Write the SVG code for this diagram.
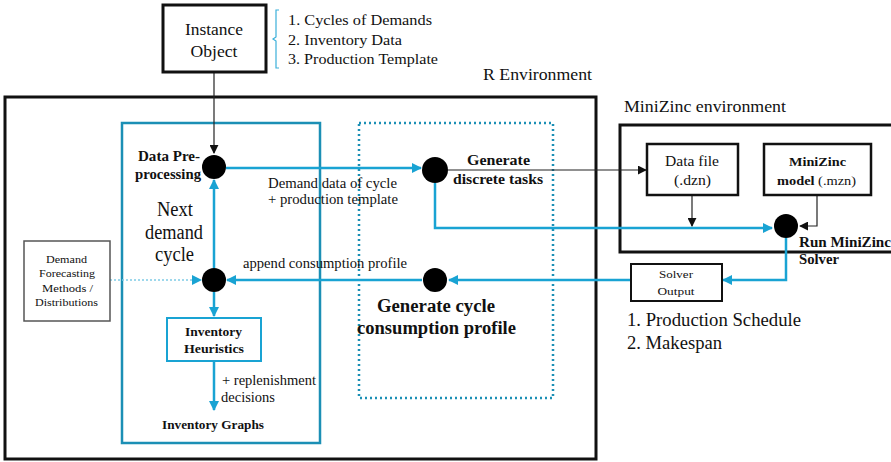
<svg xmlns="http://www.w3.org/2000/svg" width="891" height="462" viewBox="0 0 891 462">
  <style>
    text { font-family: "Liberation Serif", "Times New Roman", serif; fill: #111; }
    .b { font-weight: bold; }
    .frame { fill: none; stroke: #111; stroke-width: 3; }
    .box { fill: #fff; stroke: #111; stroke-width: 2.5; }
    .flow { fill: none; stroke: #19a3d3; stroke-width: 2.5; }
    .thin { fill: none; stroke: #222; stroke-width: 1.2; }
    .node { fill: #000; }
  </style>
  <defs>
    <marker id="ab" viewBox="0 0 10 10" refX="9" refY="5" markerWidth="10" markerHeight="10" markerUnits="userSpaceOnUse" orient="auto">
      <path d="M0,0 L10,5 L0,10 Z" fill="#19a3d3"/>
    </marker>
    <marker id="ak" viewBox="0 0 10 10" refX="9" refY="5" markerWidth="9" markerHeight="9" markerUnits="userSpaceOnUse" orient="auto">
      <path d="M0,0 L10,5 L0,10 Z" fill="#111"/>
    </marker>
  </defs>

  <!-- environments -->
  <g id="r-env">
    <rect class="frame" x="5" y="97" width="591" height="362"/>
    <text x="483" y="80" font-size="16" textLength="109" lengthAdjust="spacingAndGlyphs">R Environment</text>
  </g>
  <g id="minizinc-env">
    <rect class="frame" x="620" y="125" width="275" height="127"/>
    <text x="624" y="112" font-size="16" textLength="162" lengthAdjust="spacingAndGlyphs">MiniZinc environment</text>
  </g>
  <g id="loop-frame">
    <rect x="122" y="123" width="198" height="320" fill="none" stroke="#1b8fb5" stroke-width="2.5"/>
  </g>
  <g id="task-frame">
    <rect x="359" y="123" width="194" height="275" fill="none" stroke="#1b8fb5" stroke-width="2.5" stroke-dasharray="2 3"/>
  </g>

  <!-- connectors -->
  <g id="connectors">
    <path class="thin" d="M214,73 V153" marker-end="url(#ak)"/>
    <path class="flow" d="M226,168 H421" marker-end="url(#ab)"/>
    <path class="thin" d="M448,170 H646" marker-end="url(#ak)"/>
    <path class="flow" d="M435,183 V228 H772" marker-end="url(#ab)"/>
    <path class="thin" d="M692,195 V226" marker-end="url(#ak)"/>
    <path class="thin" d="M817,195 V226 H800" marker-end="url(#ak)"/>
    <path class="flow" d="M786,238 V280 H723" marker-end="url(#ab)"/>
    <path class="flow" d="M631,280 H449" marker-end="url(#ab)"/>
    <path class="flow" d="M422,280 H227" marker-end="url(#ab)"/>
    <path class="flow" d="M214,268 V180" marker-end="url(#ab)"/>
    <path d="M110,280 H201" fill="none" stroke="#7fcbe6" stroke-width="1.3" stroke-dasharray="2 2" marker-end="url(#ab)"/>
    <path class="flow" d="M214,292 V316" marker-end="url(#ab)"/>
    <path class="flow" d="M214,361 V410" marker-end="url(#ab)"/>
  </g>

  <!-- nodes -->
  <g id="instance-object">
    <rect x="163" y="5" width="103" height="67" fill="#fff" stroke="#111" stroke-width="3"/>
    <text x="214" y="35" font-size="17" text-anchor="middle" textLength="58" lengthAdjust="spacingAndGlyphs">Instance</text>
    <text x="214" y="57" font-size="17" text-anchor="middle" textLength="47" lengthAdjust="spacingAndGlyphs">Object</text>
  </g>
  <g id="instance-contents">
    <path d="M279,10 H276 V37 L273,39 L276,41 V68 H279" fill="none" stroke="#3bb0da" stroke-width="1.2"/>
    <text x="288" y="25" font-size="15" textLength="144" lengthAdjust="spacingAndGlyphs">1. Cycles of Demands</text>
    <text x="288" y="45" font-size="15" textLength="114" lengthAdjust="spacingAndGlyphs">2. Inventory Data</text>
    <text x="288" y="64" font-size="15" textLength="150" lengthAdjust="spacingAndGlyphs">3. Production Template</text>
  </g>
  <g id="data-preprocessing">
    <circle class="node" cx="214" cy="167" r="12"/>
    <text class="b" x="200" y="161" font-size="14" text-anchor="end" textLength="62" lengthAdjust="spacingAndGlyphs">Data Pre-</text>
    <text class="b" x="201" y="179" font-size="14" text-anchor="end" textLength="66" lengthAdjust="spacingAndGlyphs">processing</text>
  </g>
  <g id="demand-data-label">
    <text x="268" y="188" font-size="14" textLength="129" lengthAdjust="spacingAndGlyphs">Demand data of cycle</text>
    <text x="268" y="204" font-size="14" textLength="130" lengthAdjust="spacingAndGlyphs">+ production template</text>
  </g>
  <g id="next-cycle-label">
    <text x="175" y="216" font-size="20" text-anchor="middle" textLength="36" lengthAdjust="spacingAndGlyphs">Next</text>
    <text x="174" y="239" font-size="20" text-anchor="middle" textLength="58" lengthAdjust="spacingAndGlyphs">demand</text>
    <text x="174.5" y="261" font-size="20" text-anchor="middle" textLength="39" lengthAdjust="spacingAndGlyphs">cycle</text>
  </g>
  <g id="generate-tasks">
    <circle class="node" cx="435" cy="170" r="13"/>
    <text class="b" x="498.5" y="165" font-size="14" text-anchor="middle" textLength="63" lengthAdjust="spacingAndGlyphs">Generate</text>
    <text class="b" x="498" y="184" font-size="14" text-anchor="middle" textLength="90" lengthAdjust="spacingAndGlyphs">discrete tasks</text>
  </g>
  <g id="data-file">
    <rect class="box" x="647" y="144" width="91" height="51"/>
    <text x="692" y="166" font-size="14" text-anchor="middle" textLength="54" lengthAdjust="spacingAndGlyphs">Data file</text>
    <text x="692.5" y="185" font-size="14" text-anchor="middle" textLength="37" lengthAdjust="spacingAndGlyphs">(.dzn)</text>
  </g>
  <g id="minizinc-model">
    <rect class="box" x="764" y="144" width="107" height="51"/>
    <text class="b" x="817.5" y="166" font-size="12" text-anchor="middle" textLength="57" lengthAdjust="spacingAndGlyphs">MiniZinc</text>
    <text x="816.5" y="185" font-size="12" text-anchor="middle" textLength="79" lengthAdjust="spacingAndGlyphs"><tspan class="b">model</tspan> (.mzn)</text>
  </g>
  <g id="run-minizinc">
    <circle class="node" cx="786" cy="226" r="12"/>
    <text class="b" x="799" y="247" font-size="14" textLength="92" lengthAdjust="spacingAndGlyphs">Run MiniZinc</text>
    <text class="b" x="799" y="264" font-size="14" textLength="40" lengthAdjust="spacingAndGlyphs">Solver</text>
  </g>
  <g id="solver-output">
    <rect x="631" y="264" width="91" height="37" fill="#fff" stroke="#111" stroke-width="2"/>
    <text x="676" y="278" font-size="11" text-anchor="middle" textLength="34" lengthAdjust="spacingAndGlyphs">Solver</text>
    <text x="676" y="295" font-size="11" text-anchor="middle" textLength="37" lengthAdjust="spacingAndGlyphs">Output</text>
    <text x="627" y="326" font-size="18" textLength="174" lengthAdjust="spacingAndGlyphs">1. Production Schedule</text>
    <text x="627" y="349" font-size="18" textLength="95" lengthAdjust="spacingAndGlyphs">2. Makespan</text>
  </g>
  <g id="consumption-profile">
    <circle class="node" cx="435" cy="280" r="12"/>
    <text x="243" y="268" font-size="14" textLength="164" lengthAdjust="spacingAndGlyphs">append consumption profile</text>
    <text class="b" x="436" y="312" font-size="18" text-anchor="middle" textLength="118" lengthAdjust="spacingAndGlyphs">Generate cycle</text>
    <text class="b" x="436.5" y="334" font-size="18" text-anchor="middle" textLength="159" lengthAdjust="spacingAndGlyphs">consumption profile</text>
  </g>
  <g id="append-node">
    <circle class="node" cx="214" cy="280" r="12"/>
  </g>
  <g id="demand-forecasting">
    <rect x="24" y="241" width="86" height="80" fill="#fff" stroke="#555" stroke-width="1.5"/>
    <text x="66.5" y="263" font-size="11" text-anchor="middle" textLength="41" lengthAdjust="spacingAndGlyphs">Demand</text>
    <text x="67" y="277" font-size="11" text-anchor="middle" textLength="56" lengthAdjust="spacingAndGlyphs">Forecasting</text>
    <text x="67.5" y="292" font-size="11" text-anchor="middle" textLength="51" lengthAdjust="spacingAndGlyphs">Methods /</text>
    <text x="66.5" y="306" font-size="11" text-anchor="middle" textLength="63" lengthAdjust="spacingAndGlyphs">Distributions</text>
  </g>
  <g id="inventory-heuristics">
    <rect x="167" y="318" width="94" height="43" fill="#fff" stroke="#19a3d3" stroke-width="2"/>
    <text class="b" x="213.5" y="336" font-size="13" text-anchor="middle" textLength="57" lengthAdjust="spacingAndGlyphs">Inventory</text>
    <text class="b" x="214" y="353" font-size="13" text-anchor="middle" textLength="60" lengthAdjust="spacingAndGlyphs">Heuristics</text>
  </g>
  <g id="inventory-graphs">
    <text x="222" y="385" font-size="14" textLength="94" lengthAdjust="spacingAndGlyphs">+ replenishment</text>
    <text x="221" y="402" font-size="14" textLength="54" lengthAdjust="spacingAndGlyphs">decisions</text>
    <text class="b" x="213" y="429" font-size="12" text-anchor="middle" textLength="102" lengthAdjust="spacingAndGlyphs">Inventory Graphs</text>
  </g>
</svg>
